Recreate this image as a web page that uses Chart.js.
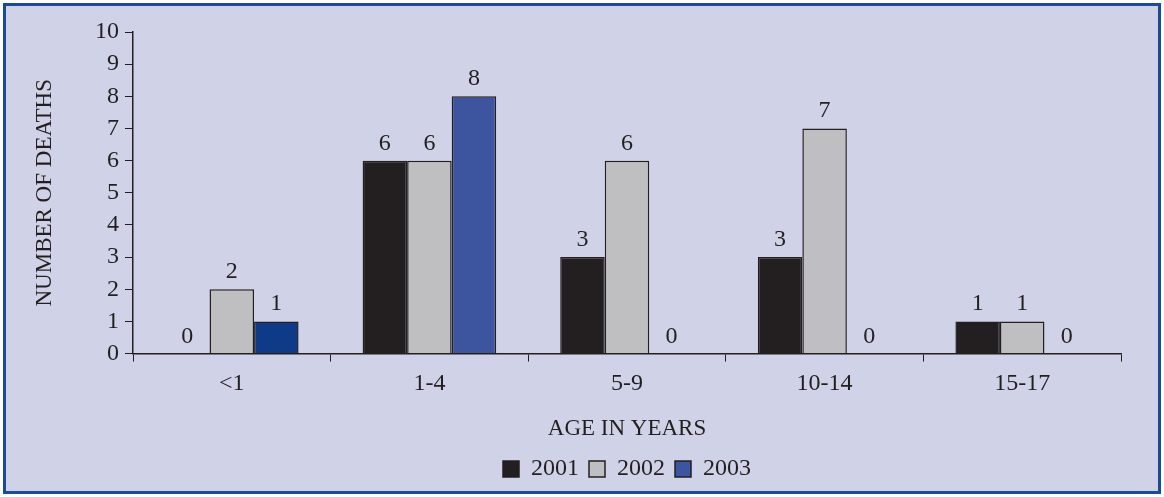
<!DOCTYPE html>
<html>
<head>
<meta charset="utf-8">
<script src="https://cdn.jsdelivr.net/npm/chart.js@4"></script>
<style>
    html, body { margin: 0; padding: 0; background: #ffffff; }
    #frame {
        position: absolute; left: 3px; top: 3px;
        width: 1158px; height: 491px;
        box-sizing: border-box;
        border: 3px solid #1c4a97;
        background: #d0d3e8;
    }
    #wrap { position: absolute; left: 0; top: 0; width: 1164px; height: 497px; }
</style>
</head>
<body>
<div id="frame"></div>
<div id="wrap"><canvas id="deathsChart" width="1164" height="497"></canvas></div>
<script>
// Data
const ageGroups = ['<1', '1-4', '5-9', '10-14', '15-17'];
const deaths2001 = [0, 6, 3, 3, 1];
const deaths2002 = [2, 6, 6, 7, 1];
const deaths2003 = [1, 8, 0, 0, 0];
const yTicks = [0, 1, 2, 3, 4, 5, 6, 7, 8, 9, 10];

const ink = '#231f20';
const serif = 'Liberation Serif, Times New Roman, serif';

// Value labels above bars (zeros too)
const valueLabels = {
    id: 'valueLabels',
    afterDatasetsDraw(chart) {
        const ctx = chart.ctx;
        ctx.save();
        ctx.font = '24px ' + serif;
        ctx.fillStyle = ink;
        ctx.textAlign = 'center';
        ctx.textBaseline = 'alphabetic';
        chart.data.datasets.forEach((ds, i) => {
            chart.getDatasetMeta(i).data.forEach((bar, j) => {
                ctx.fillText(String(ds.data[j]), bar.x, bar.y - 11);
            });
        });
        ctx.restore();
    }
};

const zeroless = ctx => (ctx.raw === 0 ? 0 : 1.5);

new Chart(document.getElementById('deathsChart'), {
    type: 'bar',
    data: {
        labels: ageGroups,
        datasets: [
            { label: '2001', data: deaths2001, backgroundColor: '#231f20', borderColor: ink, borderWidth: zeroless },
            { label: '2002', data: deaths2002, backgroundColor: '#bfbfc1', borderColor: ink, borderWidth: zeroless },
            { label: '2003', data: deaths2003, backgroundColor: ['#0e3a88', '#3c559e', '#3c559e', '#3c559e', '#3c559e'], borderColor: ink, borderWidth: zeroless }
        ]
    },
    options: {
        responsive: false,
        animation: false,
        layout: { padding: { left: 27, right: 43, top: 32, bottom: 6 } },
        datasets: { bar: { categoryPercentage: 0.676, barPercentage: 1 } },
        plugins: {
            tooltip: { enabled: false },
            legend: {
                position: 'bottom',
                fullSize: false,
                labels: {
                    color: ink,
                    font: { family: serif, size: 24 },
                    boxWidth: 16,
                    boxHeight: 16,
                    padding: 10,
                    generateLabels(chart) {
                        const fills = ['#231f20', '#bfbfc1', '#3c559e'];
                        return chart.data.datasets.map((ds, i) => ({
                            text: ds.label, fillStyle: fills[i], strokeStyle: ink,
                            lineWidth: 1.5, datasetIndex: i, fontColor: ink
                        }));
                    }
                }
            }
        },
        scales: {
            x: {
                grid: { drawOnChartArea: false, drawTicks: true, tickLength: 8, color: ink, offset: true },
                border: { color: ink, width: 1.5 },
                ticks: { color: ink, font: { family: serif, size: 24 }, padding: 8 },
                title: { display: true, text: 'AGE IN YEARS', color: ink, font: { family: serif, size: 23 }, padding: { top: 9, bottom: 4 } }
            },
            y: {
                min: 0,
                max: 10,
                afterBuildTicks(scale) { scale.ticks = yTicks.map(v => ({ value: v })); },
                afterFit(scale) { scale.width = 106; },
                grid: { drawOnChartArea: false, drawTicks: true, tickLength: 8, color: ink },
                border: { color: ink, width: 1.5 },
                ticks: { color: ink, font: { family: serif, size: 24 }, padding: 6, autoSkip: false },
                title: { display: true, text: 'NUMBER OF DEATHS', color: ink, font: { family: serif, size: 23 }, padding: { top: 4, bottom: 4 } }
            }
        }
    },
    plugins: [valueLabels]
});
</script>
</body>
</html>
